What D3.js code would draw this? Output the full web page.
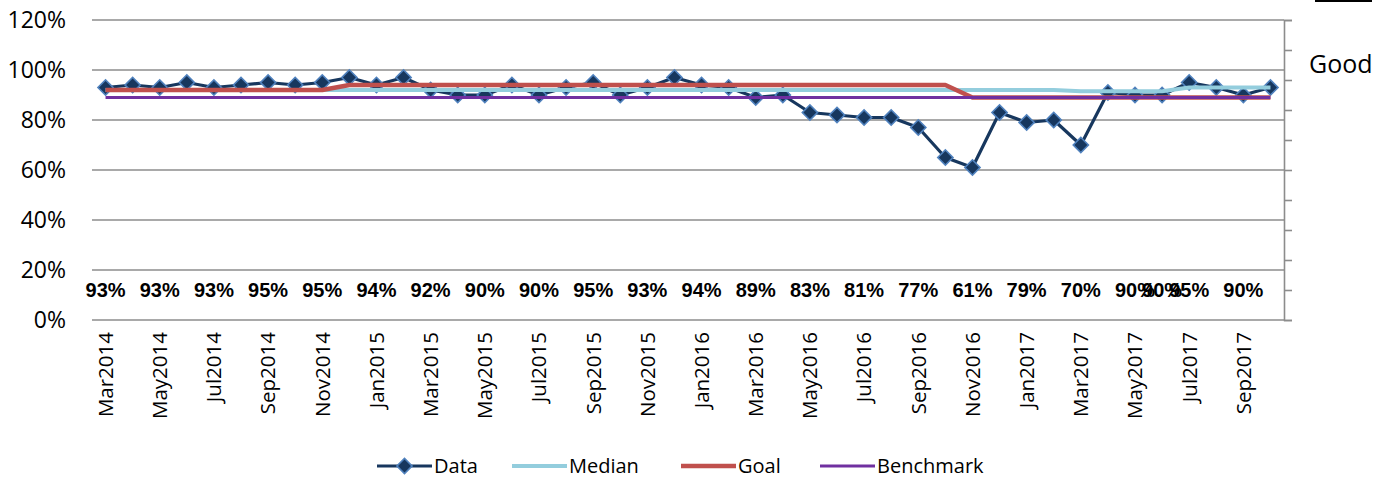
<!DOCTYPE html>
<html>
<head>
<meta charset="utf-8">
<script src="https://cdn.jsdelivr.net/npm/d3@7/dist/d3.min.js"></script>
<style>
  html, body { margin: 0; padding: 0; background: #fff; }
  svg { display: block; }
</style>
</head>
<body>
<svg id="chart" width="1388" height="481"></svg>
<script>
// Monthly categories, Mar 2014 – Oct 2017
const months = [
  "Mar2014","Apr2014","May2014","Jun2014","Jul2014","Aug2014","Sep2014","Oct2014","Nov2014","Dec2014",
  "Jan2015","Feb2015","Mar2015","Apr2015","May2015","Jun2015","Jul2015","Aug2015","Sep2015","Oct2015",
  "Nov2015","Dec2015","Jan2016","Feb2016","Mar2016","Apr2016","May2016","Jun2016","Jul2016","Aug2016",
  "Sep2016","Oct2016","Nov2016","Dec2016","Jan2017","Feb2017","Mar2017","Apr2017","May2017","Jun2017",
  "Jul2017","Aug2017","Sep2017","Oct2017"
];

// Series values (fractions)
const dataValues = [
  0.93,0.94,0.93,0.95,0.93,0.94,0.95,0.94,0.95,0.97,
  0.94,0.97,0.92,0.90,0.90,0.94,0.90,0.93,0.95,0.90,
  0.93,0.97,0.94,0.93,0.89,0.90,0.83,0.82,0.81,0.81,
  0.77,0.65,0.61,0.83,0.79,0.80,0.70,0.91,0.90,0.90,
  0.95,0.93,0.90,0.93
];
const medianValues = [
  0.92,0.92,0.92,0.92,0.92,0.92,0.92,0.92,0.92,0.92,
  0.92,0.92,0.92,0.92,0.92,0.92,0.92,0.92,0.92,0.92,
  0.92,0.92,0.92,0.92,0.92,0.92,0.92,0.92,0.92,0.92,
  0.92,0.92,0.92,0.92,0.92,0.92,0.915,0.915,0.915,0.915,
  0.93,0.93,0.93,0.93
];
const goalValues = [
  0.92,0.92,0.92,0.92,0.92,0.92,0.92,0.92,0.92,0.94,
  0.94,0.94,0.94,0.94,0.94,0.94,0.94,0.94,0.94,0.94,
  0.94,0.94,0.94,0.94,0.94,0.94,0.94,0.94,0.94,0.94,
  0.94,0.94,0.89,0.89,0.89,0.89,0.89,0.89,0.89,0.89,
  0.89,0.89,0.89,0.89
];
const benchmarkValues = months.map(() => 0.89);

// Months whose value is printed in the label row above the category axis
const labelledMonths = [
  "Mar2014","May2014","Jul2014","Sep2014","Nov2014","Jan2015","Mar2015","May2015","Jul2015","Sep2015",
  "Nov2015","Jan2016","Mar2016","May2016","Jul2016","Sep2016","Nov2016","Jan2017","Mar2017","May2017",
  "Jun2017","Jul2017","Sep2017"
];
// Months shown on the category axis
const axisMonths = months.filter((m, i) => i % 2 === 0);
const yTicks = [0, 0.2, 0.4, 0.6, 0.8, 1.0, 1.2];

const colors = {
  data: "#17375E",
  marker: "#4F81BD",
  median: "#93CDDD",
  goal: "#C0504D",
  benchmark: "#7030A0",
  grid: "#8C8C8C"
};

const svg = d3.select("#chart");
const plot = { left: 92, right: 1284, top: 20, bottom: 320 };

const x = d3.scaleBand().domain(months).range([plot.left, plot.right]).padding(0);
const cx = m => x(m) + x.bandwidth() / 2;
const y = d3.scaleLinear().domain([0, 1.2]).range([plot.bottom, plot.top]);
const y2 = d3.scaleLinear().domain([0, 1]).range([plot.bottom, plot.top]);

// Horizontal gridlines
svg.append("g")
  .selectAll("line")
  .data(yTicks)
  .join("line")
  .attr("x1", plot.left).attr("x2", plot.right)
  .attr("y1", d => y(d)).attr("y2", d => y(d))
  .attr("stroke", colors.grid).attr("stroke-width", 1.6);

// Left value labels
svg.append("g")
  .selectAll("text")
  .data(yTicks)
  .join("text")
  .attr("x", 66).attr("y", d => y(d))
  .attr("dy", "0.36em")
  .attr("text-anchor", "end")
  .attr("font-family", "'Open Sans', sans-serif")
  .attr("font-size", 23)
  .attr("fill", "#000")
  .text(d => d3.format(".0%")(d));

// Secondary axis on the right (ticks only)
const rightAxis = svg.append("g")
  .attr("transform", `translate(${plot.right},0)`)
  .call(d3.axisRight(y2).tickValues(d3.range(0, 1.0001, 0.1)).tickSize(8).tickFormat(""));
rightAxis.select(".domain").attr("stroke", colors.grid).attr("stroke-width", 1.6);
rightAxis.selectAll(".tick line").attr("stroke", colors.grid).attr("stroke-width", 1.6);

// Category labels, rotated
svg.append("g")
  .selectAll("text")
  .data(axisMonths)
  .join("text")
  .attr("transform", m => `translate(${cx(m)},${plot.bottom + 12}) rotate(-90)`)
  .attr("dy", "0.36em")
  .attr("text-anchor", "end")
  .attr("font-family", "'Open Sans', sans-serif")
  .attr("font-size", 20.5)
  .attr("fill", "#000")
  .text(m => m);

// Value label row
const valueOf = m => dataValues[months.indexOf(m)];
svg.append("g")
  .selectAll("text")
  .data(labelledMonths)
  .join("text")
  .attr("x", m => cx(m)).attr("y", 290)
  .attr("dy", "0.36em")
  .attr("text-anchor", "middle")
  .attr("font-family", "'Liberation Sans Narrow', 'Arial Narrow', 'Liberation Sans', sans-serif")
  .attr("font-weight", "bold")
  .attr("font-size", 20)
  .attr("fill", "#000")
  .text(m => d3.format(".0%")(valueOf(m)));

// Series lines
const line = d3.line().x((d, i) => cx(months[i])).y(d => y(d));

svg.append("path")
  .attr("d", line(dataValues))
  .attr("fill", "none")
  .attr("stroke", colors.data).attr("stroke-width", 3.2)
  .attr("stroke-linejoin", "round");

const diamond = d3.symbol().type(d3.symbolSquare).size(115);
svg.append("g")
  .selectAll("path")
  .data(dataValues)
  .join("path")
  .attr("d", diamond)
  .attr("transform", (d, i) => `translate(${cx(months[i])},${y(d)}) rotate(45)`)
  .attr("fill", colors.data)
  .attr("stroke", colors.marker).attr("stroke-width", 1.6);

svg.append("path")
  .attr("d", line(medianValues))
  .attr("fill", "none")
  .attr("stroke", colors.median).attr("stroke-width", 4)
  .attr("stroke-linejoin", "round");

svg.append("path")
  .attr("d", line(goalValues))
  .attr("fill", "none")
  .attr("stroke", colors.goal).attr("stroke-width", 4.5)
  .attr("stroke-linejoin", "round");

svg.append("path")
  .attr("d", line(benchmarkValues))
  .attr("fill", "none")
  .attr("stroke", colors.benchmark).attr("stroke-width", 3.2);

// "Good" direction note and frame edge at the top right
svg.append("line")
  .attr("x1", 1315).attr("x2", 1372).attr("y1", 1).attr("y2", 1)
  .attr("stroke", "#000").attr("stroke-width", 2);
svg.append("text")
  .attr("x", 1309).attr("y", 64)
  .attr("dy", "0.36em")
  .attr("font-family", "'Open Sans', sans-serif")
  .attr("font-size", 25)
  .attr("fill", "#000")
  .text("Good");

// Legend
const legendItems = [
  { name: "Data", color: colors.data, width: 3.2, marker: true, x: 377 },
  { name: "Median", color: colors.median, width: 4, marker: false, x: 512 },
  { name: "Goal", color: colors.goal, width: 4.5, marker: false, x: 681 },
  { name: "Benchmark", color: colors.benchmark, width: 3.2, marker: false, x: 820 }
];
const legendY = 466;
const lg = svg.append("g");
legendItems.forEach(it => {
  lg.append("line")
    .attr("x1", it.x).attr("x2", it.x + 55)
    .attr("y1", legendY).attr("y2", legendY)
    .attr("stroke", it.color).attr("stroke-width", it.width);
  if (it.marker) {
    lg.append("path")
      .attr("d", diamond)
      .attr("transform", `translate(${it.x + 27.5},${legendY}) rotate(45)`)
      .attr("fill", colors.data)
      .attr("stroke", colors.marker).attr("stroke-width", 1.6);
  }
  lg.append("text")
    .attr("x", it.x + 57).attr("y", legendY)
    .attr("dy", "0.36em")
    .attr("font-family", "'Open Sans', sans-serif")
    .attr("font-size", 20)
    .attr("fill", "#000")
    .text(it.name);
});
</script>
</body>
</html>
